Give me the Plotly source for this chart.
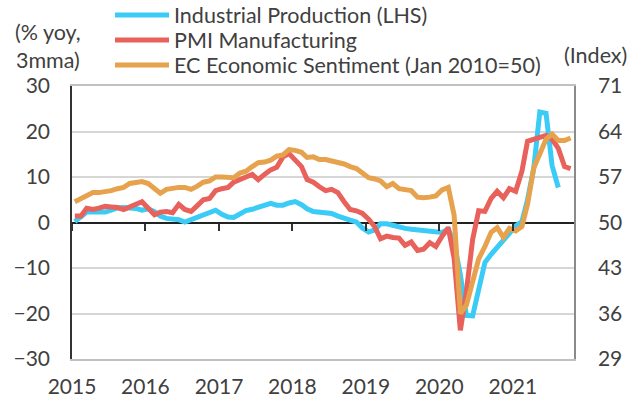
import plotly.graph_objects as go
import pandas as pd

# ---- data ----
# Industrial Production, % yoy 3mma (left axis), Jan 2015 - Aug 2021
ip = [0.2, 1.2, 2.3, 2.3, 2.2, 2.3, 2.7, 3.2, 3.3, 3.2, 3.1, 2.7,
      3.0, 2.4, 1.4, 0.9, 0.7, 0.6, 0.1, 0.6, 1.1, 1.6, 2.3, 2.7,
      1.8, 1.2, 1.1, 1.8, 2.6, 2.9, 3.3, 3.6, 4.2, 3.8, 3.8, 4.3,
      4.6, 3.9, 3.0, 2.4, 2.3, 2.3, 2.0, 1.4, 0.8, 0.5, 0.1, -1.2,
      -2.1, -1.6, -0.3, -0.3, -0.6, -1.0, -1.3, -1.5, -1.6, -1.7, -1.8, -2.0,
      -2.2, -1.5, -4.5, -11.5, -20.4, -20.5, -14.5, -8.8, -7.0, -5.5, -4.0, -2.2,
      -0.8, 0.2, 5.0, 12.0, 24.3, 24.0, 12.5, 7.7]

# PMI Manufacturing, index (right axis), Jan 2015 - Oct 2021
pmi = [51.0, 51.0, 52.2, 52.0, 52.2, 52.5, 52.4, 52.3, 52.0, 52.3, 52.8, 53.2,
       52.3, 51.2, 51.6, 51.7, 51.5, 52.8, 52.0, 51.7, 52.6, 53.5, 53.7, 54.9,
       55.2, 55.4, 56.2, 56.7, 57.0, 57.4, 56.6, 57.4, 58.1, 58.5, 60.1, 60.6,
       59.6, 58.6, 56.6, 56.2, 55.5, 54.9, 55.1, 54.6, 53.2, 52.0, 51.8, 51.4,
       50.5, 49.3, 47.5, 47.9, 47.7, 47.6, 46.5, 47.0, 45.7, 45.9, 46.9, 46.3,
       47.9, 49.2, 44.5, 33.4, 39.4, 47.4, 51.8, 51.7, 53.7, 54.8, 53.8, 55.2,
       54.8, 57.9, 62.5, 62.9, 63.1, 63.4, 62.8, 61.4, 58.6, 58.3]

# EC Economic Sentiment (Jan 2010=50), index (right axis), Jan 2015 - Oct 2021
ec = [53.2, 53.7, 54.3, 54.6, 54.6, 54.7, 54.9, 55.2, 55.4, 56.0, 56.2, 56.3,
      56.0, 55.2, 54.5, 55.1, 55.3, 55.4, 55.4, 55.1, 55.6, 56.2, 56.4, 57.0,
      57.0, 57.0, 56.9, 57.6, 57.9, 58.6, 59.2, 59.3, 59.6, 60.2, 60.4, 61.2,
      61.1, 60.8, 60.0, 60.1, 59.7, 59.7, 59.5, 59.3, 59.0, 58.6, 58.3, 57.6,
      56.9, 56.7, 56.4, 55.5, 56.0, 55.2, 55.0, 54.9, 53.9, 53.8, 53.9, 54.1,
      55.0, 55.4, 51.1, 36.0, 37.3, 41.2, 44.4, 46.3, 48.5, 49.2, 47.7, 49.1,
      48.7, 49.4, 52.8, 58.4, 60.7, 62.8, 63.6, 62.6, 62.6, 63.0]

names = ["Industrial Production (LHS)", "PMI Manufacturing",
         "EC Economic Sentiment (Jan 2010=50)"]
colors = ["#3ACBF6", "#E8615B", "#E6A24D"]

left_ticks = [-30, -20, -10, 0, 10, 20, 30]
right_ticks = [29, 36, 43, 50, 57, 64, 71]
year_ticks = ["2015", "2016", "2017", "2018", "2019", "2020", "2021"]


def months(n):
    return pd.date_range("2015-01-01", periods=n, freq="MS") + pd.Timedelta(days=14)


x_range = ["2015-01-01", "2021-11-01"]
tick_dates = [f"{y}-01-01" for y in year_ticks]

FS = 21
LFS = 21.5
txt = "#404040"
legend_ids = ["legend", "legend2", "legend3"]
# plot area: top 86 px, height 273 px
legend_y = [(359 - 15) / 273, (359 - 40) / 273, (359 - 65) / 273]

fig = go.Figure()
fig.add_trace(go.Scatter(x=months(len(ip)), y=ip, name=names[0], mode="lines",
                         line=dict(color=colors[0], width=5), yaxis="y",
                         legend=legend_ids[0]))
fig.add_trace(go.Scatter(x=months(len(pmi)), y=pmi, name=names[1], mode="lines",
                         line=dict(color=colors[1], width=5), yaxis="y2",
                         legend=legend_ids[1]))
fig.add_trace(go.Scatter(x=months(len(ec)), y=ec, name=names[2], mode="lines",
                         line=dict(color=colors[2], width=5), yaxis="y2",
                         legend=legend_ids[2]))
# helper trace so the tick-mark axis on the zero line is drawn
fig.add_trace(go.Scatter(x=[], y=[], xaxis="x2", yaxis="y", showlegend=False,
                         hoverinfo="skip"))

leg_common = dict(x=0.0757, xanchor="left", yanchor="middle",
                  bgcolor="rgba(0,0,0,0)", font=dict(size=LFS, color=txt),
                  itemwidth=54, borderwidth=0)

fig.update_layout(
    width=630, height=402,
    margin=dict(l=72, r=56, t=86, b=43, autoexpand=False),
    paper_bgcolor="white", plot_bgcolor="white",
    font=dict(family="Lato", size=FS, color=txt),
    showlegend=True,
    legend=dict(y=legend_y[0], **leg_common),
    legend2=dict(y=legend_y[1], **leg_common),
    legend3=dict(y=legend_y[2], **leg_common),
    xaxis=dict(type="date", range=x_range, tickvals=tick_dates, ticktext=year_ticks,
               showgrid=False, zeroline=False, showline=True, linecolor="#c0c0c0",
               linewidth=1.5, mirror=True, ticks="outside", ticklen=8,
               tickcolor="rgba(0,0,0,0)", tickfont=dict(size=FS, color=txt)),
    xaxis2=dict(type="date", range=x_range, tickvals=tick_dates, overlaying="x",
                anchor="free", position=0.5, showticklabels=False, showgrid=False,
                showline=False, zeroline=False, ticks="outside", ticklen=7,
                tickwidth=1.5, tickcolor="#333333"),
    yaxis=dict(range=[-30, 30], tickvals=left_ticks, showgrid=True,
               gridcolor="#d6d6d6", gridwidth=1.5, zeroline=True,
               zerolinecolor="#222222", zerolinewidth=1.5, showline=True,
               linecolor="#333333", linewidth=1.5, ticks="outside", ticklen=16,
               tickcolor="rgba(0,0,0,0)", tickfont=dict(size=FS, color=txt)),
    yaxis2=dict(range=[29, 71], tickvals=right_ticks, overlaying="y", side="right",
                showgrid=False, zeroline=False, showline=True, linecolor="#8a8a8a",
                linewidth=1.5, ticks="outside", ticklen=18,
                tickcolor="rgba(0,0,0,0)", tickfont=dict(size=FS, color=txt)),
    annotations=[
        dict(text="(% yoy,<br>3mma)", x=(48 - 72) / 502, y=(359 - 46) / 273,
             xref="paper", yref="paper", xanchor="center", yanchor="middle",
             showarrow=False, font=dict(size=LFS, color=txt)),
        dict(text="(Index)", x=(595 - 72) / 502, y=(359 - 55) / 273,
             xref="paper", yref="paper", xanchor="center", yanchor="middle",
             showarrow=False, font=dict(size=LFS, color=txt)),
    ],
    hovermode=False,
)

# remove the default 8px page margin so the figure fills the window exactly
fig.write_html("out.html", config={"displayModeBar": False},
               post_script="document.body.style.margin='0px';")
